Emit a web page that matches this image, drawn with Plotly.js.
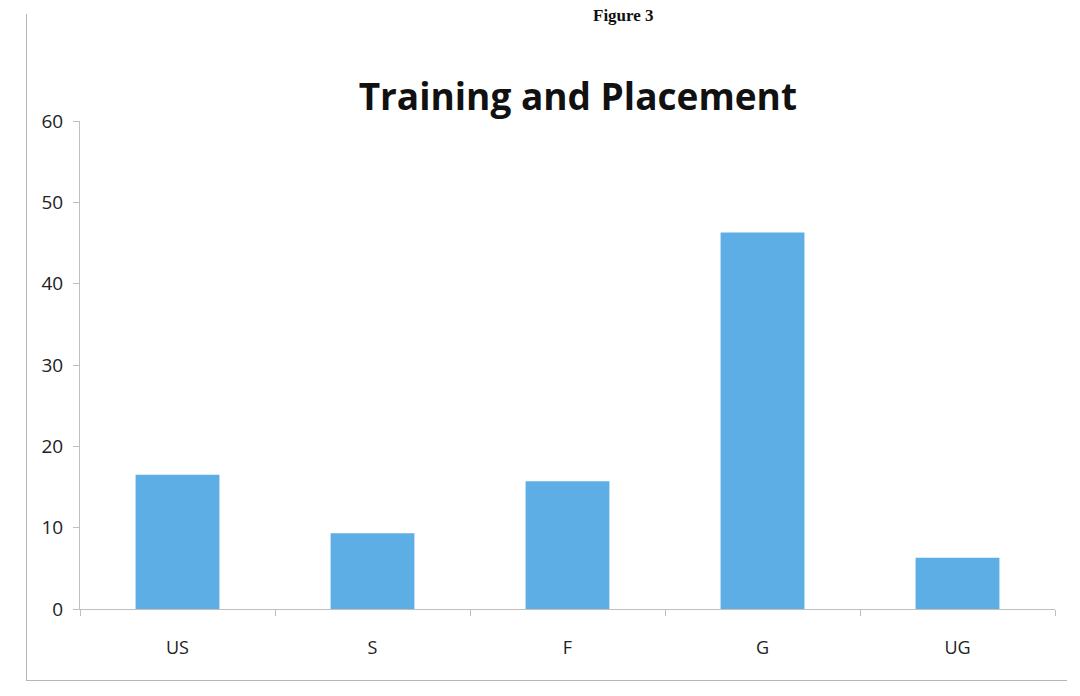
<!DOCTYPE html>
<html>
<head>
<meta charset="utf-8">
<script src="https://cdn.plot.ly/plotly-3.0.1.min.js"></script>
<style>
  html, body { margin: 0; padding: 0; background: #fff; }
  #chart { width: 1080px; height: 696px; position: relative; }
  #frame { position: absolute; left: 26px; top: 14px; width: 1040px; height: 666px;
           border-left: 1px solid #b5b5b5; border-bottom: 1px solid #b5b5b5; pointer-events: none; }
</style>
</head>
<body>
<div id="chart"></div>
<div id="frame"></div>
<script>
const categories = ["US", "S", "F", "G", "UG"];
const values = [16.5, 9.3, 15.7, 46.3, 6.3];
const yTicks = [0, 10, 20, 30, 40, 50, 60];

const trace = {
  type: "bar",
  x: categories,
  y: values,
  marker: { color: "#5eaee6" },
  hoverinfo: "x+y"
};

const layout = {
  width: 1080,
  height: 696,
  margin: { l: 80, r: 25, t: 121, b: 87 },
  paper_bgcolor: "#ffffff",
  plot_bgcolor: "#ffffff",
  bargap: 0.57,
  showlegend: false,
  title: {
    text: "<b>Training and Placement</b>",
    font: { family: "Open Sans, Lato, sans-serif", size: 37, color: "#111111" },
    x: 0.535, xanchor: "center",
    y: 0.86, yanchor: "middle"
  },
  xaxis: {
    type: "category",
    showline: true, linecolor: "#bfbfbf", linewidth: 1,
    ticks: "outside", tickson: "boundaries", ticklen: 6, tickcolor: "#bfbfbf",
    showgrid: false,
    ticklabelstandoff: 22,
    tickfont: { family: "Open Sans, sans-serif", size: 18, color: "#222" },
    automargin: false
  },
  yaxis: {
    range: [0, 60],
    tickvals: yTicks,
    ticktext: yTicks.map(String),
    showline: true, linecolor: "#bfbfbf", linewidth: 1,
    ticks: "outside", ticklen: 6, tickcolor: "#bfbfbf",
    showgrid: false, zeroline: false,
    ticklabelstandoff: 6,
    tickfont: { family: "Open Sans, sans-serif", size: 19, color: "#222" },
    automargin: false
  },
  annotations: [{
    text: "<b>Figure 3</b>",
    xref: "paper", yref: "paper",
    x: 0.557, y: 1.217, xanchor: "center", yanchor: "middle",
    showarrow: false,
    font: { family: "Liberation Serif, serif", size: 17, color: "#111" }
  }]
};

Plotly.newPlot("chart", [trace], layout, { displayModeBar: false, staticPlot: true });
</script>
</body>
</html>
